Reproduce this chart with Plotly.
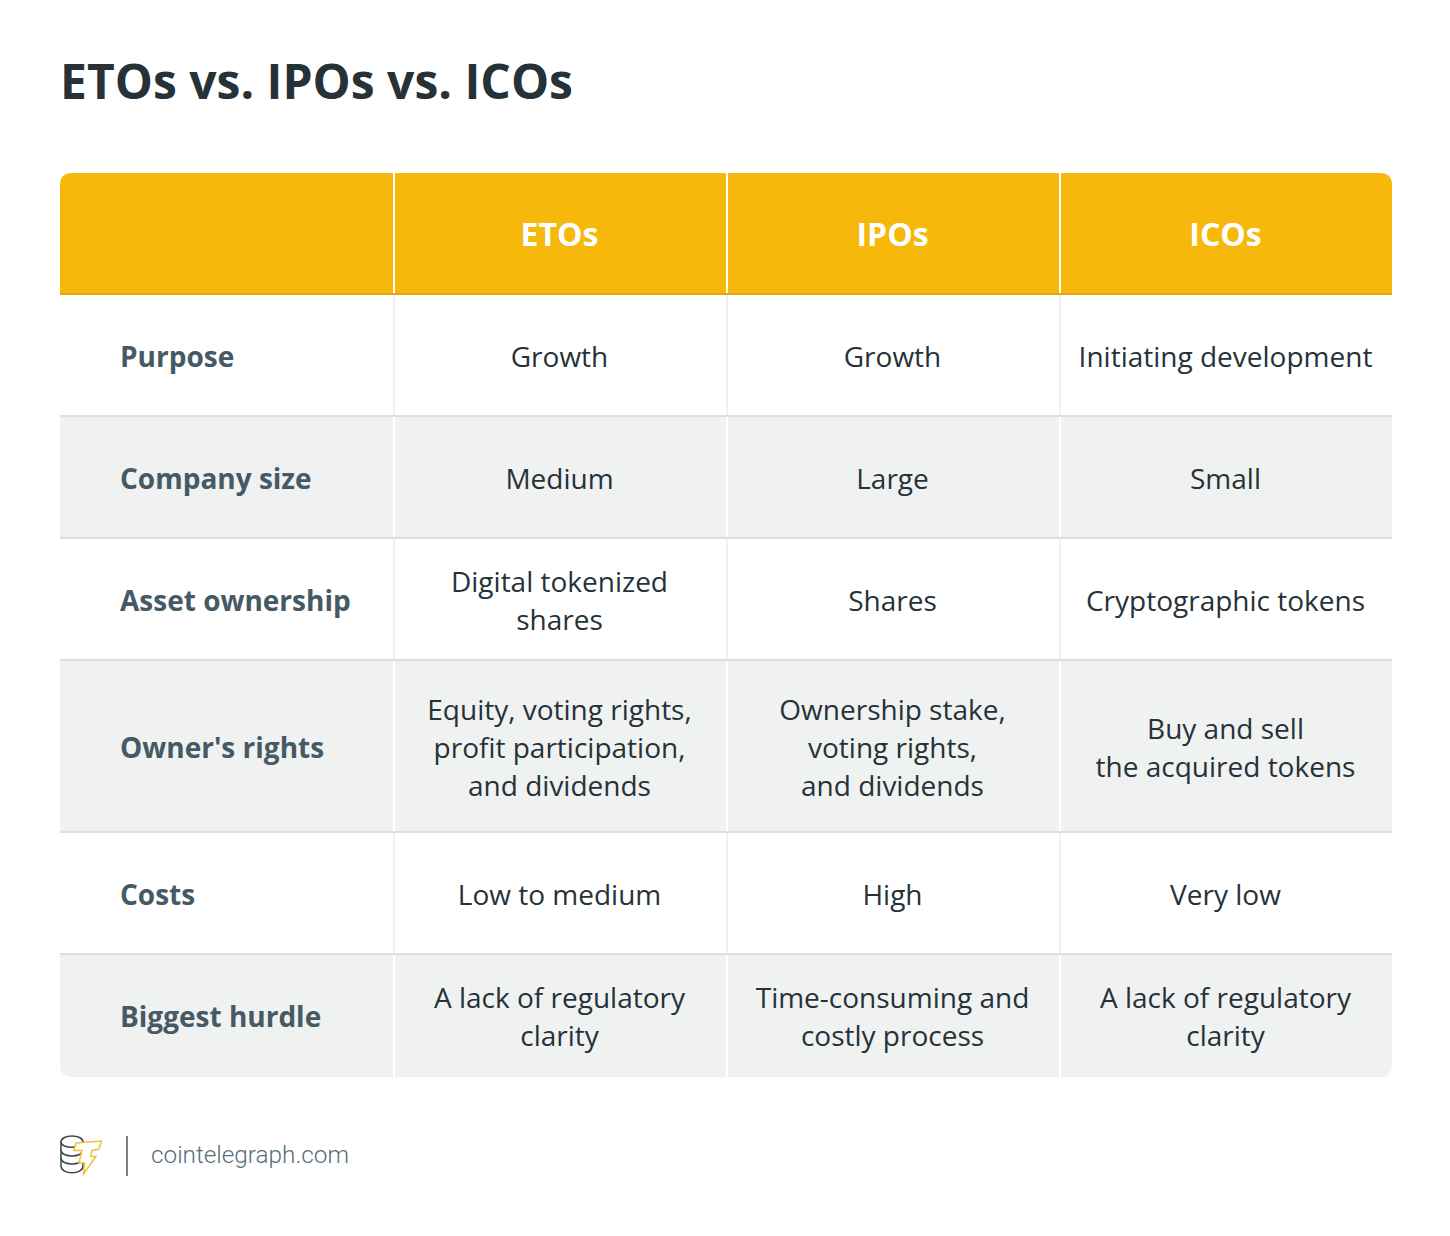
import plotly.graph_objects as go

TITLE = "ETOs vs. IPOs vs. ICOs"
COLUMNS = ["ETOs", "IPOs", "ICOs"]
ROW_LABELS = ["Purpose", "Company size", "Asset ownership", "Owner's rights", "Costs", "Biggest hurdle"]
ETOS = ["Growth", "Medium", "Digital tokenized\nshares",
        "Equity, voting rights,\nprofit participation,\nand dividends", "Low to medium",
        "A lack of regulatory\nclarity"]
IPOS = ["Growth", "Large", "Shares", "Ownership stake,\nvoting rights,\nand dividends", "High",
        "Time-consuming and\ncostly process"]
ICOS = ["Initiating development", "Small", "Cryptographic tokens",
        "Buy and sell\nthe acquired tokens", "Very low", "A lack of regulatory\nclarity"]
FOOTER = "cointelegraph.com"

# layout of the table, in page pixels
COL_EDGES = [60, 394, 727, 1060, 1392]
COL_CENTRES = [559.5, 892.5, 1225.5]
ROW_EDGES = [173, 294, 416, 538, 660, 832, 954, 1077]
LABEL_X = 120
LINE_H = 38
RADIUS = 12
TEXT_DY = 4.5

DARK = "#263238"
SLATE = "#455a64"
YELLOW = "#f5b80b"
GREY = "#f0f1f1"

shapes = []


def add_shape(path, fill, line=None, width=0):
    shapes.append(dict(type="path", path=path, fillcolor=fill, layer="below",
                       line=dict(color=line or fill, width=width)))


def add_line(x0, y0, x1, y1, color, width):
    shapes.append(dict(type="line", x0=x0, y0=y0, x1=x1, y1=y1, layer="below",
                       line=dict(color=color, width=width)))


left, right = COL_EDGES[0], COL_EDGES[-1]
top, bottom = ROW_EDGES[0], ROW_EDGES[-1]

# header and last row have the rounded corners
add_shape(f"M{left},{ROW_EDGES[1]} L{left},{top + RADIUS} Q{left},{top} {left + RADIUS},{top} "
          f"L{right - RADIUS},{top} Q{right},{top} {right},{top + RADIUS} L{right},{ROW_EDGES[1]} Z", YELLOW)
add_shape(f"M{left},{ROW_EDGES[6]} L{right},{ROW_EDGES[6]} L{right},{bottom - RADIUS} "
          f"Q{right},{bottom} {right - RADIUS},{bottom} L{left + RADIUS},{bottom} "
          f"Q{left},{bottom} {left},{bottom - RADIUS} Z", GREY)
for i in (1, 3):
    add_shape(f"M{left},{ROW_EDGES[i + 1]} L{right},{ROW_EDGES[i + 1]} L{right},{ROW_EDGES[i + 2]} "
              f"L{left},{ROW_EDGES[i + 2]} Z", GREY)

# vertical separators, white on colour and pale grey on white rows
for x in COL_EDGES[1:-1]:
    add_line(x, top, x, ROW_EDGES[1], "#ffffff", 2)
    for i in range(len(ROW_LABELS)):
        color = GREY if i % 2 == 0 else "#ffffff"
        add_line(x, ROW_EDGES[i + 1], x, ROW_EDGES[i + 2], color, 2)

# horizontal rules
add_line(left, ROW_EDGES[1], right, ROW_EDGES[1], "#e0a80a", 2)
for y in ROW_EDGES[2:-1]:
    add_line(left, y, right, y, "#d9dfe3", 2)

# footer logo: coin stack, then the bolt over it
COIN = "#37474f"
add_shape("M61,1142 L61,1166 C61,1175 83,1175 83,1166 L83,1142 Z", "#ffffff", COIN, 1.5)
add_shape("M61,1142 C61,1134 83,1134 83,1142 C83,1149 61,1149 61,1142 Z", "#ffffff", COIN, 1.5)
for y0 in (1150, 1158):
    add_shape(f"M61,{y0} C61,{y0 + 8} 83,{y0 + 8} 83,{y0}", "rgba(0,0,0,0)", COIN, 1.5)
add_shape("M76,1143 L101.5,1141 L99,1149 L92,1150.5 L90.5,1156.5 L96,1156.5 L83.5,1174 L84.5,1163 L79,1163 "
          "L82,1150.5 L74,1150.5 Z", "#ffffff", "#f5c033", 1.5)
add_line(127, 1136, 127, 1176, "#808080", 2)

# one text mark per printed line, so the line spacing can follow the table
text_x, text_y, text_val, text_col, text_size, text_fam, text_pos = [], [], [], [], [], [], []


def add_text(x, y, value, color, size, family, pos):
    text_x.append(x)
    text_y.append(y + TEXT_DY)
    text_val.append(value)
    text_col.append(color)
    text_size.append(size)
    text_fam.append(family)
    text_pos.append(pos)


header_mid = (ROW_EDGES[0] + ROW_EDGES[1]) / 2
for cx, name in zip(COL_CENTRES, COLUMNS):
    add_text(cx, header_mid, f"<b>{name}</b>", "#ffffff", 32, "Open Sans", "middle center")

for r, label in enumerate(ROW_LABELS):
    mid = (ROW_EDGES[r + 1] + ROW_EDGES[r + 2]) / 2
    add_text(LABEL_X, mid, f"<b>{label}</b>", SLATE, 28, "Open Sans", "middle right")
    for cx, series in zip(COL_CENTRES, (ETOS, IPOS, ICOS)):
        lines = series[r].split("\n")
        for n, line in enumerate(lines):
            add_text(cx, mid + (n - (len(lines) - 1) / 2) * LINE_H, line, DARK, 28, "Open Sans", "middle center")

fig = go.Figure(go.Scatter(
    x=text_x, y=text_y, text=text_val, mode="text", textposition=text_pos,
    textfont=dict(color=text_col, size=text_size, family=text_fam),
    hoverinfo="skip", cliponaxis=False, showlegend=False,
))

fig.add_annotation(x=148.5, y=1154, text=FOOTER, showarrow=False, xanchor="left", yanchor="middle",
                   font=dict(family="Roboto", size=24.3, color="#546e7a", weight=300))

fig.update_layout(
    title=dict(text=f"<b>{TITLE}</b>", x=60 / 1450, xanchor="left", y=1 - 82 / 1236, yanchor="middle",
               font=dict(family="Open Sans", size=48, color=DARK)),
    width=1450, height=1236,
    margin=dict(l=0, r=0, t=0, b=0),
    plot_bgcolor="white", paper_bgcolor="white",
    xaxis=dict(range=[0, 1450], visible=False, fixedrange=True),
    yaxis=dict(range=[1236, 0], visible=False, fixedrange=True),
    shapes=shapes,
)

fig.write_html("out.html", config={"displayModeBar": False},
               post_script="document.body.style.margin = '0';")
